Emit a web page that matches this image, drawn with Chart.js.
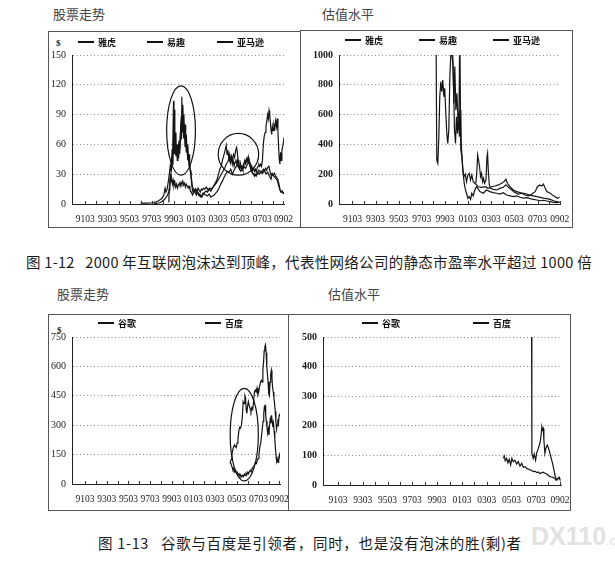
<!DOCTYPE html>
<html>
<head>
<meta charset="utf-8">
<script src="https://cdn.jsdelivr.net/npm/chart.js@4.4.1/dist/chart.umd.min.js"></script>
<style>
  body { margin: 0; background: #fff; width: 615px; height: 565px; position: relative; overflow: hidden;
         font-family: "Noto Sans CJK SC", sans-serif; }
  canvas { position: absolute; }
  .txt { position: absolute; white-space: pre; line-height: 1; }
  .title { font-size: 13px; color: #444; }
  .cap { font-size: 14.5px; color: #1a1a1a; }
  .leg { position: absolute; display: flex; align-items: center; font-size: 9px; font-weight: 700;
         color: #111; line-height: 1; white-space: nowrap; }
  .leg i { display: inline-block; width: 16px; height: 2px; background: #111; margin-right: 4px; }
  .dollar { font-family: "Liberation Serif", serif; font-weight: 700; font-size: 9px; color: #222; }
</style>
</head>
<body>
<div class="txt title" style="left:53px;top:7px">股票走势</div>
<div class="txt title" style="left:322px;top:7px">估值水平</div>
<div class="txt title" style="left:57px;top:287px">股票走势</div>
<div class="txt title" style="left:328px;top:287px">估值水平</div>
<div class="txt dollar" style="left:56px;top:39px">$</div>
<div class="txt dollar" style="left:57px;top:326px">$</div>
<div class="txt cap" style="left:26px;top:255px;letter-spacing:0.3px">图 1-12   2000 年互联网泡沫达到顶峰，代表性网络公司的静态市盈率水平超过 1000 倍</div>
<div class="txt cap" style="left:98px;top:536px;letter-spacing:0.7px">图 1-13   谷歌与百度是引领者，同时，也是没有泡沫的胜(剩)者</div>
<div class="txt" style="left:531px;top:524px;font-family:'Liberation Sans',sans-serif;font-weight:700;font-size:25px;color:#e2e2e2">DX110<span style="font-size:12px;font-weight:400">.com</span></div>

<canvas id="tl" width="253" height="197" style="left:48px;top:31px"></canvas>
<canvas id="tr" width="273" height="198" style="left:300px;top:30px"></canvas>
<canvas id="bl" width="241" height="197" style="left:48px;top:314px"></canvas>
<canvas id="br" width="283" height="197" style="left:288px;top:314px"></canvas>

<script>
// x tick labels (yymm)
const tickLabels = ['9103', '9303', '9503', '9703', '9903', '0103', '0303', '0503', '0703', '0902'];
const topNames = ['雅虎', '易趣', '亚马逊'];
const bottomNames = ['谷歌', '百度'];

// stock price, $  [year, value]
const yahooPrice = [[1996.2,0.8],[1996.5,1],[1996.8,0.8],[1997.1,1],[1997.4,1.5],[1997.6,2.2],[1997.8,3],[1998.0,4.5],[1998.15,6],[1998.3,9],[1998.42,16],[1998.5,12],[1998.6,15],[1998.7,22],[1998.8,30],[1998.88,38],[1998.95,33],[1999.02,48],[1999.08,40],[1999.13,70],[1999.18,104],[1999.22,62],[1999.28,50],[1999.34,72],[1999.4,48],[1999.46,58],[1999.52,44],[1999.58,52],[1999.64,46],[1999.7,62],[1999.76,55],[1999.82,75],[1999.88,88],[1999.93,108],[1999.97,80],[2000.02,100],[2000.07,76],[2000.12,90],[2000.17,68],[2000.22,80],[2000.28,62],[2000.34,70],[2000.4,52],[2000.46,60],[2000.52,45],[2000.58,50],[2000.64,40],[2000.7,34],[2000.76,28],[2000.82,20],[2000.88,15],[2000.95,12],[2001.05,14],[2001.15,11],[2001.25,9],[2001.35,12],[2001.45,10],[2001.55,8],[2001.65,7],[2001.75,9],[2001.85,11],[2001.95,10],[2002.1,9],[2002.25,8],[2002.4,10],[2002.55,7],[2002.7,8],[2002.85,9],[2003.0,11],[2003.15,13],[2003.3,16],[2003.45,20],[2003.6,23],[2003.75,27],[2003.9,30],[2004.05,33],[2004.2,32],[2004.35,35],[2004.5,30],[2004.65,34],[2004.8,37],[2004.95,39],[2005.1,36],[2005.25,33],[2005.4,35],[2005.55,38],[2005.7,36],[2005.85,40],[2006.0,42],[2006.1,38],[2006.2,33],[2006.35,31],[2006.5,30],[2006.65,28],[2006.8,32],[2006.95,30],[2007.1,33],[2007.25,31],[2007.4,34],[2007.55,30],[2007.7,32],[2007.85,28],[2008.0,25],[2008.1,30],[2008.25,28],[2008.4,26],[2008.55,24],[2008.7,18],[2008.8,14],[2008.9,12],[2009.0,13],[2009.1,11],[2009.17,12]];
const ebayPrice = [[1998.72,2],[1998.76,6],[1998.8,14],[1998.85,24],[1998.9,30],[1998.95,22],[1999.0,26],[1999.08,20],[1999.15,24],[1999.22,18],[1999.3,22],[1999.38,17],[1999.46,20],[1999.54,16],[1999.62,19],[1999.7,21],[1999.78,18],[1999.86,22],[1999.94,20],[2000.02,23],[2000.1,19],[2000.18,21],[2000.26,17],[2000.34,20],[2000.42,18],[2000.5,16],[2000.58,18],[2000.66,15],[2000.74,13],[2000.82,11],[2000.9,9],[2000.98,11],[2001.1,13],[2001.2,15],[2001.3,13],[2001.4,16],[2001.5,14],[2001.6,12],[2001.7,15],[2001.8,14],[2001.9,16],[2002.0,15],[2002.15,17],[2002.3,14],[2002.45,16],[2002.6,15],[2002.75,17],[2002.9,19],[2003.05,21],[2003.2,24],[2003.35,27],[2003.5,30],[2003.65,33],[2003.8,36],[2003.95,40],[2004.1,43],[2004.2,46],[2004.3,42],[2004.4,48],[2004.5,45],[2004.6,50],[2004.7,47],[2004.8,54],[2004.88,57],[2004.95,52],[2005.02,44],[2005.1,40],[2005.2,36],[2005.3,38],[2005.4,35],[2005.5,39],[2005.6,42],[2005.7,40],[2005.8,44],[2005.9,42],[2006.0,45],[2006.1,41],[2006.2,36],[2006.3,32],[2006.4,30],[2006.5,28],[2006.6,30],[2006.7,29],[2006.8,32],[2006.9,34],[2007.0,33],[2007.1,31],[2007.2,33],[2007.3,35],[2007.4,33],[2007.5,36],[2007.6,34],[2007.7,37],[2007.8,38],[2007.9,33],[2008.0,29],[2008.1,31],[2008.2,29],[2008.3,31],[2008.4,28],[2008.5,27],[2008.6,25],[2008.7,21],[2008.8,15],[2008.9,12],[2009.0,13],[2009.08,11],[2009.17,11]];
const amazonPrice = [[1997.4,0.5],[1997.6,0.7],[1997.8,1],[1998.0,1.5],[1998.15,2.5],[1998.3,4],[1998.45,6],[1998.6,8],[1998.75,12],[1998.85,20],[1998.92,28],[1999.0,36],[1999.05,55],[1999.1,42],[1999.15,66],[1999.2,50],[1999.25,95],[1999.3,58],[1999.36,68],[1999.42,52],[1999.5,60],[1999.56,46],[1999.62,54],[1999.68,64],[1999.74,50],[1999.8,70],[1999.86,82],[1999.9,65],[1999.95,96],[2000.0,72],[2000.05,82],[2000.1,66],[2000.16,74],[2000.22,58],[2000.28,64],[2000.34,52],[2000.4,58],[2000.46,44],[2000.52,48],[2000.58,38],[2000.64,40],[2000.7,32],[2000.76,30],[2000.82,24],[2000.88,18],[2000.95,16],[2001.05,13],[2001.15,15],[2001.25,11],[2001.35,13],[2001.45,9],[2001.55,10],[2001.65,8],[2001.75,7],[2001.85,9],[2001.95,11],[2002.1,13],[2002.25,12],[2002.4,15],[2002.55,13],[2002.7,16],[2002.85,19],[2003.0,22],[2003.1,24],[2003.2,28],[2003.3,32],[2003.4,36],[2003.5,38],[2003.6,44],[2003.7,48],[2003.8,52],[2003.88,56],[2003.95,59],[2004.02,50],[2004.1,54],[2004.18,46],[2004.26,50],[2004.34,42],[2004.42,47],[2004.5,40],[2004.58,44],[2004.66,38],[2004.74,42],[2004.82,45],[2004.9,40],[2004.98,44],[2005.06,38],[2005.14,36],[2005.22,41],[2005.3,35],[2005.38,38],[2005.46,34],[2005.54,40],[2005.62,44],[2005.7,42],[2005.78,46],[2005.86,44],[2005.94,48],[2006.02,44],[2006.1,40],[2006.18,37],[2006.26,38],[2006.34,34],[2006.42,36],[2006.5,33],[2006.58,35],[2006.66,32],[2006.74,36],[2006.82,38],[2006.9,40],[2006.98,38],[2007.06,40],[2007.14,38],[2007.22,44],[2007.3,60],[2007.38,68],[2007.46,72],[2007.54,78],[2007.62,84],[2007.7,90],[2007.76,86],[2007.82,94],[2007.88,90],[2007.94,82],[2008.0,74],[2008.06,70],[2008.12,78],[2008.18,74],[2008.26,80],[2008.34,76],[2008.42,84],[2008.5,78],[2008.56,86],[2008.62,74],[2008.68,58],[2008.74,45],[2008.8,40],[2008.86,52],[2008.92,44],[2008.98,54],[2009.05,58],[2009.12,62],[2009.17,67]];

// price / earnings  [year, value]
const yahooPE = [[1998.41,1500],[1998.5,295],[1998.59,273],[1998.68,452],[1998.76,720],[1998.85,821],[1998.93,754],[1999.02,832],[1999.11,720],[1999.19,776],[1999.28,608],[1999.37,474],[1999.45,407],[1999.54,497],[1999.63,855],[1999.71,1000],[1999.8,1010],[1999.89,944],[1999.98,676],[2000.06,922],[2000.15,631],[2000.24,743],[2000.32,586],[2000.41,497],[2000.49,1200],[2000.55,586],[2000.61,407],[2000.7,295],[2000.78,206],[2000.87,139],[2000.95,105],[2001.07,72],[2001.19,38],[2001.3,49],[2001.42,31],[2001.53,72],[2001.65,54],[2001.79,94],[2001.94,116],[2002.23,83],[2002.51,72],[2002.8,94],[2003.09,83],[2003.38,76],[2003.67,72],[2003.96,67],[2004.25,76],[2004.54,60],[2004.83,54],[2005.12,49],[2005.41,54],[2005.7,45],[2005.99,40],[2006.28,43],[2006.57,36],[2006.86,31],[2007.15,27],[2007.43,22],[2007.72,25],[2008.01,20],[2008.3,16],[2008.59,11],[2008.88,9],[2009.11,11]];
const ebayPE = [[1999.84,1100],[1999.95,810],[2000.03,497],[2000.12,407],[2000.2,586],[2000.29,474],[2000.38,608],[2000.46,452],[2000.52,631],[2000.58,362],[2000.67,318],[2000.75,228],[2000.84,183],[2000.96,201],[2001.07,150],[2001.19,195],[2001.3,206],[2001.42,161],[2001.53,195],[2001.65,150],[2001.79,139],[2001.94,128],[2002.08,116],[2002.37,112],[2002.66,116],[2002.95,105],[2003.24,116],[2003.53,121],[2003.82,128],[2004.11,139],[2004.31,150],[2004.48,166],[2004.6,139],[2004.83,116],[2005.12,94],[2005.41,83],[2005.7,76],[2005.99,72],[2006.28,67],[2006.57,58],[2006.86,54],[2007.15,49],[2007.43,45],[2007.72,40],[2008.01,36],[2008.3,31],[2008.59,22],[2008.88,16],[2009.11,13]];
const amazonPE = [[2001.88,139],[2001.97,228],[2002.03,329],[2002.11,295],[2002.2,250],[2002.28,183],[2002.37,206],[2002.46,150],[2002.54,172],[2002.63,139],[2002.75,161],[2002.84,318],[2002.89,340],[2002.95,228],[2003.04,128],[2003.15,105],[2003.38,98],[2003.67,94],[2003.96,105],[2004.25,112],[2004.48,128],[2004.69,112],[2004.98,94],[2005.27,76],[2005.56,67],[2005.85,72],[2006.13,60],[2006.42,54],[2006.71,67],[2007.0,83],[2007.2,116],[2007.38,128],[2007.58,121],[2007.72,134],[2007.87,105],[2008.01,83],[2008.3,72],[2008.53,58],[2008.73,49],[2008.94,38],[2009.11,45]];

const googlePrice = [[2004.6,105],[2004.68,125],[2004.76,150],[2004.84,175],[2004.92,190],[2005.0,200],[2005.08,190],[2005.16,185],[2005.24,210],[2005.32,230],[2005.4,270],[2005.48,290],[2005.56,285],[2005.64,300],[2005.72,340],[2005.8,420],[2005.88,410],[2005.96,450],[2006.02,440],[2006.08,380],[2006.14,360],[2006.2,395],[2006.28,420],[2006.36,400],[2006.44,385],[2006.52,370],[2006.6,390],[2006.68,380],[2006.76,420],[2006.84,470],[2006.92,480],[2007.0,470],[2007.08,490],[2007.16,455],[2007.24,470],[2007.32,500],[2007.4,520],[2007.48,530],[2007.56,520],[2007.62,580],[2007.68,620],[2007.74,680],[2007.8,700],[2007.86,710],[2007.92,670],[2007.98,600],[2008.04,560],[2008.1,520],[2008.16,460],[2008.22,450],[2008.28,520],[2008.34,560],[2008.4,580],[2008.46,540],[2008.52,490],[2008.58,470],[2008.64,440],[2008.7,410],[2008.76,370],[2008.82,320],[2008.88,280],[2008.94,300],[2009.0,330],[2009.06,310],[2009.12,350],[2009.18,360]];
const baiduPrice = [[2004.62,110],[2004.7,100],[2004.78,85],[2004.86,72],[2004.94,80],[2005.02,62],[2005.1,70],[2005.18,55],[2005.26,60],[2005.34,45],[2005.42,52],[2005.5,40],[2005.58,46],[2005.66,36],[2005.74,44],[2005.82,38],[2005.9,50],[2005.98,42],[2006.06,55],[2006.14,48],[2006.22,60],[2006.3,52],[2006.38,65],[2006.46,70],[2006.54,62],[2006.62,80],[2006.7,85],[2006.78,90],[2006.86,100],[2006.94,110],[2007.02,105],[2007.1,120],[2007.18,130],[2007.26,150],[2007.34,190],[2007.42,210],[2007.5,250],[2007.58,290],[2007.64,320],[2007.7,360],[2007.76,395],[2007.82,400],[2007.88,350],[2007.94,320],[2008.0,290],[2008.06,260],[2008.12,280],[2008.18,250],[2008.24,300],[2008.3,330],[2008.36,310],[2008.42,350],[2008.48,320],[2008.54,290],[2008.6,310],[2008.66,270],[2008.72,230],[2008.78,180],[2008.84,140],[2008.9,115],[2008.96,125],[2009.02,110],[2009.08,130],[2009.14,150],[2009.18,140]];
const googlePE = [[2004.54,90],[2004.62,98],[2004.7,82],[2004.81,90],[2004.92,75],[2005.03,87],[2005.14,68],[2005.24,90],[2005.35,79],[2005.48,84],[2005.62,71],[2005.75,79],[2005.89,64],[2006.03,73],[2006.16,60],[2006.3,62],[2006.43,56],[2006.55,54],[2006.69,51],[2006.82,50],[2006.96,45],[2007.1,47],[2007.23,42],[2007.36,44],[2007.5,39],[2007.63,41],[2007.77,43],[2007.9,40],[2008.04,37],[2008.17,33],[2008.31,28],[2008.45,27],[2008.58,25],[2008.7,22],[2008.79,17],[2008.9,18],[2008.98,23],[2009.05,24],[2009.11,19]];
const baiduPE = [[2006.83,500],[2006.85,107],[2006.96,90],[2007.04,105],[2007.15,84],[2007.23,107],[2007.37,124],[2007.5,141],[2007.58,163],[2007.66,197],[2007.71,186],[2007.77,191],[2007.82,152],[2007.9,107],[2007.98,124],[2008.09,135],[2008.2,124],[2008.31,107],[2008.41,90],[2008.52,73],[2008.63,51],[2008.74,28],[2008.85,17],[2008.98,23],[2009.11,28]];

// circled bubbles: [centre year, centre value, half width (years), half height (value)]
const bubbles2000 = [[1999.86, 74, 1.3, 45], [2005.05, 50, 1.83, 21]];
const bubbles2006 = [[2005.9, 252, 1.3, 236]];

function labelYear(l) {
  const yy = +l.slice(0, 2), mm = +l.slice(2);
  return (yy > 50 ? 1900 : 2000) + yy + (mm - 1) / 12 + 0.04;
}
const xTicks = [];
tickLabels.forEach((l, i) => {
  const v = labelYear(l);
  xTicks.push({ value: v, label: l });
  if (i < tickLabels.length - 1) xTicks.push({ value: (v + labelYear(tickLabels[i + 1])) / 2, label: '' });
});

const framePlugin = {
  id: 'frame',
  afterDraw(chart) {
    const { ctx, width, height } = chart;
    ctx.save();
    ctx.strokeStyle = '#555';
    ctx.lineWidth = 1;
    ctx.strokeRect(0.5, 0.5, width - 1, height - 1);
    ctx.restore();
  }
};

const innerTicks = {
  id: 'innerTicks',
  afterDraw(chart) {
    const { ctx, chartArea, scales } = chart;
    ctx.save();
    ctx.strokeStyle = '#333';
    ctx.lineWidth = 1;
    scales.x.ticks.forEach(t => {
      const x = Math.round(scales.x.getPixelForValue(t.value)) + 0.5;
      ctx.beginPath();
      ctx.moveTo(x, chartArea.bottom);
      ctx.lineTo(x, chartArea.bottom - 3);
      ctx.stroke();
    });
    ctx.restore();
  }
};

function ellipsePlugin(list) {
  return {
    id: 'bubbles',
    afterDatasetsDraw(chart) {
      const { ctx, scales: { x, y } } = chart;
      ctx.save();
      ctx.strokeStyle = '#111';
      ctx.lineWidth = 1.2;
      list.forEach(([cx, cy, rx, ry]) => {
        const px = x.getPixelForValue(cx), py = y.getPixelForValue(cy);
        const rpx = Math.abs(x.getPixelForValue(cx + rx) - px);
        const rpy = Math.abs(y.getPixelForValue(cy + ry) - py);
        ctx.beginPath();
        ctx.ellipse(px, py, rpx, rpy, 0, 0, Math.PI * 2);
        ctx.stroke();
      });
      ctx.restore();
    }
  };
}

function makeChart(cfg) {
  const canvas = document.getElementById(cfg.id);
  const pad = { left: 0, top: cfg.top, right: cfg.right, bottom: 2 };
  new Chart(canvas, {
    type: 'line',
    data: {
      datasets: cfg.series.map((s, i) => ({
        label: cfg.names[i],
        data: s.map(p => ({ x: p[0], y: p[1] })),
        borderColor: '#151515',
        borderWidth: 1.2,
        pointRadius: 0,
        tension: 0,
        fill: false
      }))
    },
    options: {
      responsive: false,
      animation: false,
      devicePixelRatio: 1,
      layout: { padding: pad },
      plugins: { legend: { display: false }, tooltip: { enabled: false } },
      scales: {
        x: {
          type: 'linear',
          min: cfg.xmin,
          max: cfg.xmax,
          afterBuildTicks: s => { s.ticks = xTicks.map(t => ({ value: t.value })); },
          afterFit: s => { s.height = cfg.xh; s.paddingLeft = 0; s.paddingRight = 0; },
          ticks: {
            autoSkip: false, maxRotation: 0, minRotation: 0, padding: 10,
            color: '#1a1a1a',
            font: { family: '"Liberation Serif", serif', size: 9.5 },
            callback: (v, i) => (xTicks[i] ? xTicks[i].label : '')
          },
          grid: { display: false, drawTicks: false },
          border: { display: true, color: '#222', width: 1 }
        },
        y: {
          min: 0,
          max: cfg.ymax,
          afterFit: s => { s.width = cfg.yw; s.paddingTop = 0; s.paddingBottom = 0; },
          ticks: {
            stepSize: cfg.ystep, padding: 6, color: '#1a1a1a',
            font: cfg.yfont,
            callback: v => String(v)
          },
          grid: { drawTicks: false, color: '#8a8a8a', lineWidth: 1 },
          border: { display: true, color: '#222', width: 1, dash: [1, 2.5] }
        }
      }
    },
    plugins: [framePlugin, innerTicks].concat(cfg.bubbles ? [ellipsePlugin(cfg.bubbles)] : [])
  });

  // legend
  cfg.names.forEach((n, i) => {
    const d = document.createElement('div');
    d.className = 'leg';
    d.style.left = cfg.legend[i][0] + 'px';
    d.style.top = (cfg.legend[i][1] - 5) + 'px';
    d.style.height = '10px';
    d.innerHTML = '<i></i>' + n;
    document.body.appendChild(d);
  });
}

const thinFont = { family: '"Liberation Serif", serif', size: 10 };
const boldFont = { family: '"Liberation Serif", serif', size: 10, weight: 'bold' };

makeChart({ id: 'tl', series: [yahooPrice, ebayPrice, amazonPrice], names: topNames,
  top: 24, right: 17, xh: 22, yw: 24, xmin: 1990, xmax: 2009.17, ymax: 150, ystep: 30, yfont: thinFont,
  bubbles: bubbles2000, legend: [[78, 42], [147, 42], [217, 42]] });
makeChart({ id: 'tr', series: [yahooPE, ebayPE, amazonPE], names: topNames,
  top: 25, right: 13, xh: 22, yw: 39, xmin: 1990.05, xmax: 2009.15, ymax: 1000, ystep: 200, yfont: boldFont,
  legend: [[345, 40], [419, 40], [493, 40]] });
makeChart({ id: 'bl', series: [googlePrice, baiduPrice], names: bottomNames,
  top: 23, right: 9, xh: 25, yw: 24, xmin: 1990, xmax: 2009.2, ymax: 750, ystep: 150, yfont: thinFont,
  bubbles: bubbles2006, legend: [[98, 323], [205, 323]] });
makeChart({ id: 'br', series: [googlePE, baiduPE], names: bottomNames,
  top: 23, right: 10, xh: 24, yw: 35, xmin: 1990, xmax: 2009.2, ymax: 500, ystep: 100, yfont: boldFont,
  legend: [[362, 323], [473, 323]] });
</script>
</body>
</html>
